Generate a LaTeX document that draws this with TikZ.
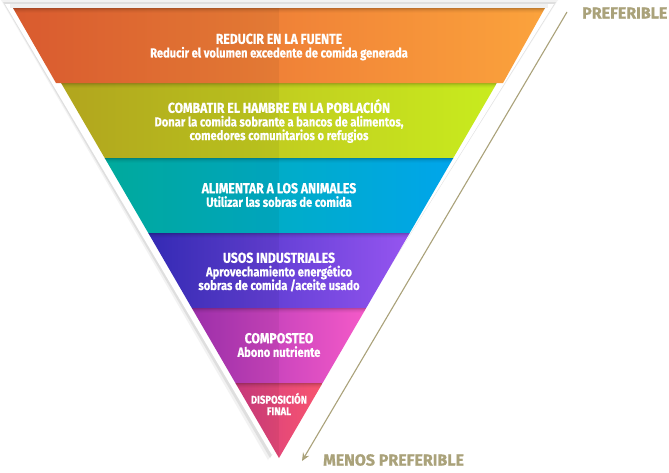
\documentclass[tikz,border=0pt]{standalone}
\usepackage{fontspec}
\setmainfont{Fira Sans}
\newfontfamily\condf{Fira Sans}[FakeStretch=0.85, BoldFeatures={FakeBold=0.6}]
\newfontfamily\labf{Fira Sans}[FakeStretch=1.0, BoldFeatures={FakeBold=0.8}]
\usetikzlibrary{arrows.meta}
\newcommand\bandtitle[1]{{\fontsize{14.4}{13.8}\selectfont #1}}
\definecolor{beige}{RGB}{170,162,122}
\definecolor{orL}{RGB}{229,96,50}\definecolor{orR}{RGB}{251,163,60}
\definecolor{grL}{RGB}{188,175,32}\definecolor{grR}{RGB}{200,236,30}
\definecolor{teL}{RGB}{0,180,165}\definecolor{teR}{RGB}{0,165,235}
\definecolor{puL}{RGB}{55,45,190}\definecolor{puR}{RGB}{150,85,240}
\definecolor{maL}{RGB}{165,50,180}\definecolor{maR}{RGB}{245,90,200}
\definecolor{reL}{RGB}{210,60,130}\definecolor{reR}{RGB}{248,85,110}
\tikzset{
  bandtext/.style={text=white, align=center, inner sep=0pt,
    font=\condf\bfseries\fontsize{13.1}{13.6}\selectfont},
  smalltext/.style={text=white, align=center, inner sep=0pt,
    font=\condf\bfseries\fontsize{11.2}{11.5}\selectfont},
  sidelabel/.style={text=beige, inner sep=0pt, anchor=west,
    font=\labf\bfseries\fontsize{16}{16}\selectfont},
  arrowline/.style={draw=beige, line width=1.1pt, -{Stealth[length=8pt,width=7pt]}}
}
% #1 ytop #2 ybot #3 xlt #4 xrt #5 xlb #6 xrb #7 left colour #8 right colour
\newcommand\pyrband[8]{%
  \begin{scope}
    \clip (#3,#1) -- (#4,#1) -- (#6,#2) -- (#5,#2) -- cycle;
    \shade[left color=#7, right color=#8] (#3,#1) rectangle (#4,#2);
    \fill[black, opacity=0.05] (0,#1) rectangle (279,#2);
    \foreach \i/\o in {0/0.22,1/0.15,2/0.09,3/0.05,4/0.02}
      \fill[black, opacity=\o] (0,#1+\i) rectangle (669,#1+\i+1);
  \end{scope}}
\begin{document}
\begin{tikzpicture}[x=1pt,y=-1pt]
\useasboundingbox (0,0) rectangle (669,472);
\fill[white] (0,0) rectangle (669,472);
% backing with shadow
\fill[gray!10] (1,0) -- (558,0) -- (268,460) -- cycle;
\fill[gray!25] (3,2) -- (556,2) -- (270,458) -- cycle;
\fill[white] (5,4) -- (554,4) -- (272,455) -- cycle;
\fill[gray!12] (10,4) rectangle (548,8);
% bands
\pyrband{83}{158}{61.1}{496.9}{104.7}{453.3}{grL}{grR}
\pyrband{158}{233}{104.7}{453.3}{148.3}{409.7}{teL}{teR}
\pyrband{233}{308}{148.3}{409.7}{191.8}{366.2}{puL}{puR}
\pyrband{308}{383}{191.8}{366.2}{235.4}{322.6}{maL}{maR}
\pyrband{383}{458}{235.4}{322.6}{279}{279}{reL}{reR}
\pyrband{8}{83}{13}{545}{56}{503}{orL}{orR}
% texts
\node[bandtext] (t1) at (279,47) {\bandtitle{REDUCIR EN LA FUENTE}\\Reducir el volumen excedente de comida generada};
\node[bandtext] (t2) at (279,121) {\bandtitle{COMBATIR EL HAMBRE EN LA POBLACIÓN}\\Donar la comida sobrante a bancos de alimentos,\\comedores comunitarios o refugios};
\node[bandtext] (t3) at (279,195) {\bandtitle{ALIMENTAR A LOS ANIMALES}\\Utilizar las sobras de comida};
\node[bandtext] (t4) at (279,272) {\bandtitle{USOS INDUSTRIALES}\\Aprovechamiento energético\\sobras de comida /aceite usado};
\node[bandtext] (t5) at (279,345) {\bandtitle{COMPOSTEO}\\Abono nutriente};
\node[smalltext] (t6) at (279,404) {DISPOSICIÓN\\FINAL};
% side labels and arrow
\node[sidelabel] (pref) at (582,13) {PREFERIBLE};
\node[sidelabel] (menos) at (323,460) {MENOS PREFERIBLE};
\coordinate (arrS) at (567,12);
\coordinate (arrE) at (302,461);
\draw[arrowline] (arrS) -- (arrE);
\end{tikzpicture}
\end{document}
